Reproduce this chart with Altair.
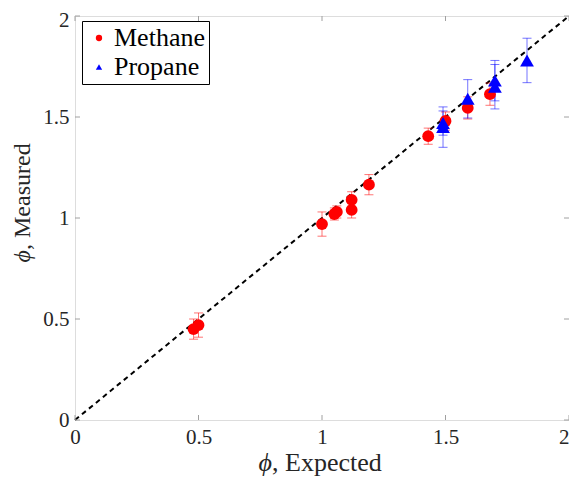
import altair as alt
import pandas as pd

# ---- data ----
methane_x = [0.48, 0.50, 1.00, 1.05, 1.06, 1.12, 1.12, 1.19, 1.43, 1.50, 1.59, 1.68]
methane_y = [0.45, 0.47, 0.97, 1.02, 1.03, 1.09, 1.04, 1.165, 1.405, 1.48, 1.545, 1.613]
methane_err = [0.05, 0.06, 0.06, 0.03, 0.03, 0.04, 0.04, 0.05, 0.04, 0.045, 0.055, 0.055]

propane_x = [1.49, 1.49, 1.59, 1.70, 1.70, 1.83]
propane_y = [1.45, 1.47, 1.59, 1.65, 1.68, 1.78]
propane_err = [0.10, 0.06, 0.095, 0.11, 0.10, 0.11]

ticks = [0, 0.5, 1, 1.5, 2]
series = ["Methane", "Propane"]
colors = ["#ff0000", "#0000ff"]
shapes = ["circle", "triangle-up"]
x_title = ["ϕ", ", Expected"]
y_title = ["ϕ", ", Measured"]

rows = []
for x, y, e in zip(methane_x, methane_y, methane_err):
    rows.append({"fuel": "Methane", "x": x, "y": y, "lo": y - e, "hi": y + e})
for x, y, e in zip(propane_x, propane_y, propane_err):
    rows.append({"fuel": "Propane", "x": x, "y": y, "lo": y - e, "hi": y + e})
df = pd.DataFrame(rows)
tick_df = pd.DataFrame({"t": ticks})
diag = pd.DataFrame({"x": [0, 2], "y": [0, 2]})

W, H = 494, 404
FONT = "Liberation Serif"
TXT = "#262626"

xs = alt.Scale(domain=[0, 2], nice=False)
ys = alt.Scale(domain=[0, 2], nice=False)

legend = alt.Legend(title=None, orient="none", legendX=7, legendY=5,
                    labelFont=FONT, labelFontSize=26, labelColor="black",
                    symbolSize=40, symbolOpacity=1, padding=4, rowPadding=3,
                    strokeColor="black", fillColor="white",
                    symbolStrokeWidth=0, labelOffset=2)
col = alt.Color("fuel:N", scale=alt.Scale(domain=series, range=colors), legend=legend)
shp = alt.Shape("fuel:N", scale=alt.Scale(domain=series, range=shapes), legend=legend)

common_axis = dict(values=ticks, grid=False, ticks=False, domain=False,
                   labelFontSize=21, labelPadding=6, labelFont=FONT, format="~g",
                   labelColor=TXT, labelFlush=False, title=None)
xaxis = alt.Axis(labelAlign={"condition": {"test": "datum.value === 2", "value": "right"},
                             "value": "center"},
                 **common_axis)
yaxis = alt.Axis(labelOffset={"condition": {"test": "datum.value === 2", "value": 4},
                              "value": 0},
                 **common_axis)

line = alt.Chart(diag).mark_line(color="black", strokeDash=[5, 4], strokeWidth=2).encode(
    x=alt.X("x:Q", scale=xs, axis=xaxis),
    y=alt.Y("y:Q", scale=ys, axis=yaxis),
)

bars = alt.Chart(df).mark_rule(strokeWidth=1, opacity=0.55).encode(
    x=alt.X("x:Q", scale=xs), y=alt.Y("lo:Q", scale=ys), y2="hi:Q", color=col)
cap_lo = alt.Chart(df).mark_tick(orient="horizontal", size=9, thickness=1, opacity=0.55).encode(
    x=alt.X("x:Q", scale=xs), y=alt.Y("lo:Q", scale=ys), color=col)
cap_hi = alt.Chart(df).mark_tick(orient="horizontal", size=9, thickness=1, opacity=0.55).encode(
    x=alt.X("x:Q", scale=xs), y=alt.Y("hi:Q", scale=ys), color=col)

meth = alt.Chart(df[df.fuel == "Methane"]).mark_point(
    filled=True, size=140, opacity=1).encode(
    x=alt.X("x:Q", scale=xs), y=alt.Y("y:Q", scale=ys), color=col, shape=shp)
prop = alt.Chart(df[df.fuel == "Propane"]).mark_point(
    filled=True, size=190, opacity=1).encode(
    x=alt.X("x:Q", scale=xs), y=alt.Y("y:Q", scale=ys), color=col, shape=shp)

tick_style = dict(color="#a0a0a0", strokeWidth=1)
tb = alt.Chart(tick_df).mark_rule(**tick_style).encode(
    x=alt.X("t:Q", scale=xs), y=alt.value(H), y2=alt.value(H - 5))
tt = alt.Chart(tick_df).mark_rule(**tick_style).encode(
    x=alt.X("t:Q", scale=xs), y=alt.value(0), y2=alt.value(5))
tl = alt.Chart(tick_df).mark_rule(**tick_style).encode(
    y=alt.Y("t:Q", scale=ys), x=alt.value(0), x2=alt.value(5))
tr = alt.Chart(tick_df).mark_rule(**tick_style).encode(
    y=alt.Y("t:Q", scale=ys), x=alt.value(W), x2=alt.value(W - 5))

# axis titles: italic phi + upright rest
TS = 26
TSY = 24
one = pd.DataFrame({"k": [0]})
xt_phi = alt.Chart(one).mark_text(text=x_title[0], font=FONT, fontSize=TS, fontStyle="italic",
                                  align="right", baseline="alphabetic", color=TXT).encode(
    x=alt.value(197), y=alt.value(455))
xt_rest = alt.Chart(one).mark_text(text=x_title[1], font=FONT, fontSize=TS,
                                   align="left", baseline="alphabetic", color=TXT).encode(
    x=alt.value(197), y=alt.value(455))
yt_phi = alt.Chart(one).mark_text(text=y_title[0], font=FONT, fontSize=TSY, fontStyle="italic",
                                  align="right", baseline="alphabetic", angle=270,
                                  color=TXT).encode(
    x=alt.value(-45), y=alt.value(234))
yt_rest = alt.Chart(one).mark_text(text=y_title[1], font=FONT, fontSize=TSY,
                                   align="left", baseline="alphabetic", angle=270,
                                   color=TXT).encode(
    x=alt.value(-45), y=alt.value(234))

chart = alt.layer(line, tb, tt, tl, tr, bars, cap_lo, cap_hi, meth, prop,
                  xt_phi, xt_rest, yt_phi, yt_rest).properties(
    width=W, height=H,
    autosize=alt.AutoSizeParams(type="none"),
    padding={"left": 67, "top": 8, "right": 0, "bottom": 58},
).configure_view(stroke="#a6a6a6", strokeWidth=1.5).configure(background="white")

chart.save("out.html", embed_options={"renderer": "svg", "actions": False})
